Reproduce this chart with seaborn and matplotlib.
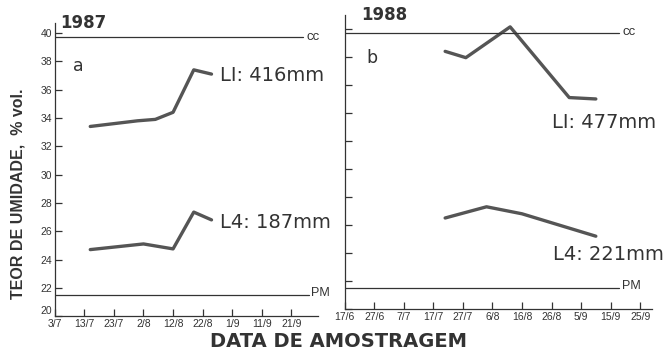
import numpy as np
import matplotlib
matplotlib.use("Agg")
import matplotlib.pyplot as plt
import seaborn as sns

# dias contados a partir do primeiro tick de cada eixo
# 1987: dia 0 = 3/7 ; 1988: dia 0 = 17/6
ticks87 = ["3/7", "13/7", "23/7", "2/8", "12/8", "22/8", "1/9", "11/9", "21/9"]
ticks88 = ["17/6", "27/6", "7/7", "17/7", "27/7", "6/8", "16/8", "26/8", "5/9", "15/9", "25/9"]

dias_l1_87 = [12, 28, 34, 40, 47, 53]
umid_l1_87 = [33.4, 33.8, 33.9, 34.4, 37.4, 37.1]
dias_l4_87 = [12, 30, 40, 47, 53]
umid_l4_87 = [24.7, 25.1, 24.75, 27.35, 26.8]

dias_l1_88 = [34, 41, 56, 76, 85]
umid_l1_88 = [38.4, 37.95, 40.15, 35.1, 35.0]
dias_l4_88 = [34, 48, 60, 85]
umid_l4_88 = [26.5, 27.3, 26.8, 25.2]

cc = 39.7   # capacidade de campo
pm = 21.5   # ponto de murcha

sns.set_style("ticks")
plt.rcParams['font.family'] = ['Liberation Sans', 'DejaVu Sans']

fig = plt.figure(figsize=(6.68, 3.56), dpi=100)
ax1 = fig.add_axes([0.082, 0.112, 0.394, 0.823])
ax2 = fig.add_axes([0.516, 0.132, 0.46, 0.826])

cor = '#555555'
sns.lineplot(x=dias_l1_87, y=umid_l1_87, ax=ax1, color=cor, lw=2.4)
sns.lineplot(x=dias_l4_87, y=umid_l4_87, ax=ax1, color=cor, lw=2.4)
sns.lineplot(x=dias_l1_88, y=umid_l1_88, ax=ax2, color=cor, lw=2.4)
sns.lineplot(x=dias_l4_88, y=umid_l4_88, ax=ax2, color=cor, lw=2.4)

# linhas de referencia CC e PM
ax1.plot([0, 84], [cc, cc], color='#333333', lw=0.9)
ax1.plot([0, 86], [pm, pm], color='#333333', lw=0.9)
ax2.plot([0, 93], [cc, cc], color='#333333', lw=0.9)
ax2.plot([0, 93], [pm, pm], color='#333333', lw=0.9)

for ax, labs, xmax, ymax in [(ax1, ticks87, 89, 40.7), (ax2, ticks88, 104, 41)]:
    ax.set_xlim(0, xmax)
    ax.set_ylim(20, ymax)
    ax.set_xticks(np.arange(len(labs)) * 10)
    ax.set_xticklabels(labs)
    ax.set_yticks(np.arange(20, 41, 2))
    ax.tick_params(direction='in', length=5, width=0.9, labelsize=7.5,
                   colors='#333333', pad=2)
    for s in ['top', 'right']:
        ax.spines[s].set_visible(False)
    for s in ['left', 'bottom']:
        ax.spines[s].set_color('#333333')
        ax.spines[s].set_linewidth(0.9)
    ax.patch.set_alpha(0)

ax2.set_yticklabels([])
# o "20" fica um pouco acima do "3/7"
ax1.get_yticklabels()[0].set_va('bottom')

dj = ['DejaVu Sans']
txt = dict(color='#333333')
ax1.text(56, 37.0, "LI: 416mm", fontsize=14, va='center', family=dj, **txt)
ax1.text(56, 26.6, "L4: 187mm", fontsize=14, va='center', family=dj, **txt)
ax1.text(6, 37.7, "a", fontsize=12.5, va='center', family=dj, **txt)
ax1.text(85, cc, "cc", fontsize=9.5, va='center', **txt)
ax1.text(86.5, pm + 0.1, "PM", fontsize=9, va='center', **txt)
ax1.text(0.02, 1.0, "1987", transform=ax1.transAxes, fontsize=12,
         fontweight='bold', va='center', family=dj, **txt)

ax2.text(70, 33.35, "LI: 477mm", fontsize=14, va='center', family=dj, **txt)
ax2.text(70.5, 23.9, "L4: 221mm", fontsize=14, va='center', family=dj, **txt)
ax2.text(7.5, 37.9, "b", fontsize=12.5, va='center', family=dj, **txt)
ax2.text(94, cc + 0.1, "cc", fontsize=9.5, va='center', **txt)
ax2.text(94, pm + 0.15, "PM", fontsize=9, va='center', **txt)
ax2.text(0.055, 1.0, "1988", transform=ax2.transAxes, fontsize=12,
         fontweight='bold', va='center', family=dj, **txt)

fig.text(0.027, 0.455, "TEOR DE UMIDADE,  % vol.", rotation=90, fontsize=11.5,
         fontweight='bold', ha='center', va='center', **txt)
fig.text(0.506, 0.04, "DATA DE AMOSTRAGEM", fontsize=14, fontweight='bold',
         ha='center', va='center', family=dj, **txt)

fig.savefig("out.png", dpi=100)
